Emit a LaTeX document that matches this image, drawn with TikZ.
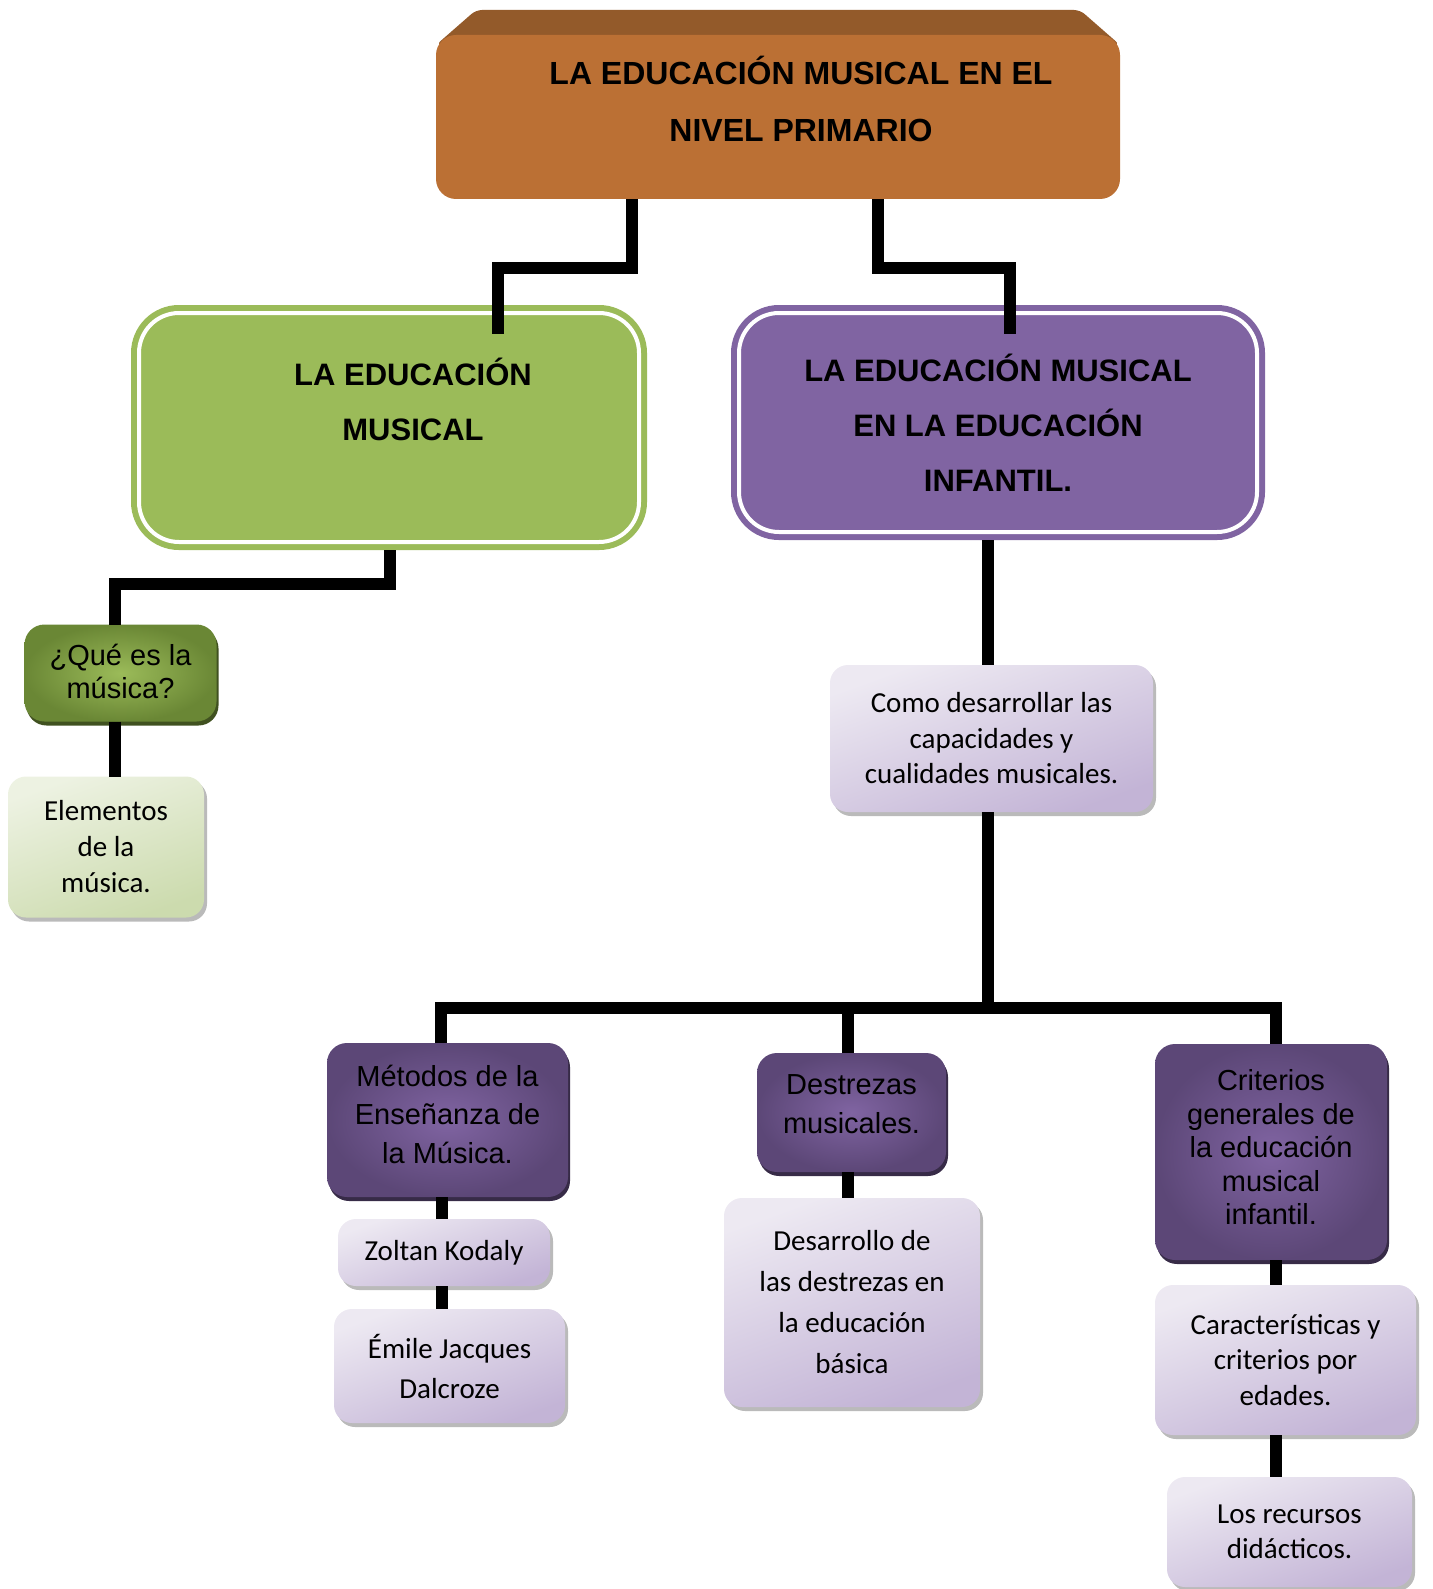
\documentclass[tikz,border=0pt]{standalone}
\usepackage{fontspec}
\setmainfont{Carlito}
\newfontfamily\arialfont{Liberation Sans}
\usetikzlibrary{shadows,backgrounds}
\definecolor{naranja}{HTML}{BB7034}
\definecolor{naranjaoscuro}{HTML}{935A2A}
\definecolor{verde}{HTML}{9BBB59}
\definecolor{verdeoscuro}{HTML}{6A8735}
\definecolor{verdeclaro}{HTML}{EDF2E2}
\definecolor{verdemedio}{HTML}{CCDBAE}
\definecolor{lila}{HTML}{8064A2}
\definecolor{lilaoscuro}{HTML}{5C4777}
\definecolor{lilaclaro}{HTML}{EDE9F2}
\definecolor{lilamedio}{HTML}{C3B4D6}
\tikzset{
  linea/.style={line width=12pt, line join=miter, black},
  titulo/.style={rectangle, rounded corners=20pt, fill=naranja, minimum width=684pt, minimum height=164pt,
    inner sep=0pt, outer sep=0pt, align=center, text depth=37pt,
    font=\arialfont\bfseries\fontsize{32}{57}\selectfont},
  grande/.style={rectangle, rounded corners=40pt, fill=#1, draw=#1, line width=6pt, double=white, double distance=4pt,
    inner sep=0pt, outer sep=0pt, align=center, font=\arialfont\bfseries\fontsize{31}{55}\selectfont},
  oscuro/.style={rectangle, rounded corners=20pt, inner sep=0pt, outer sep=0pt, align=center,
    font=\arialfont\fontsize{29}{#1}\selectfont},
  claro/.style={rectangle, rounded corners=18pt, inner sep=0pt, outer sep=0pt, align=center,
    font=\fontsize{29}{#1}\selectfont,
    drop shadow={shadow xshift=3pt, shadow yshift=-4pt, fill=black!45, opacity=.6}},
  verdeosc/.style={oscuro=#1, inner color=verde, outer color=verdeoscuro,
    drop shadow={shadow xshift=2pt, shadow yshift=-4pt, fill=verdeoscuro!60!black, opacity=1}},
  lilaosc/.style={oscuro=#1, inner color=lila, outer color=lilaoscuro,
    drop shadow={shadow xshift=2pt, shadow yshift=-4pt, fill=lilaoscuro!60!black, opacity=1}},
  verdecl/.style={claro=#1, top color=verdeclaro, bottom color=verdemedio, shading angle=20},
  lilacl/.style={claro=#1, top color=lilaclaro, bottom color=lilamedio, shading angle=20},
}
\begin{document}
\begin{tikzpicture}[x=1pt, y=-1pt]
\useasboundingbox (0,0) rectangle (1432,1589);
% Kasten oben
\node[titulo] (nivel) at (778,117) {\hspace*{46pt}LA EDUCACIÓN MUSICAL EN EL\\\hspace*{46pt}NIVEL PRIMARIO};
\begin{scope}[on background layer]
\fill[naranjaoscuro, rounded corners=6pt] ([yshift=-10pt]nivel.north west) -- ++(40,-35)
  -- ([xshift=-40pt,yshift=25pt]nivel.north east) -- ([yshift=-10pt]nivel.north east) -- cycle;
\end{scope}
% zweite Ebene
\node[grande=verde, minimum width=500pt, minimum height=229pt, text depth=56pt] (educacion) at (389,427.5) {\hspace*{48pt}LA EDUCACIÓN\\\hspace*{48pt}MUSICAL};
\node[grande=lila, minimum width=518pt, minimum height=219pt] (infantil) at (998,422.5) {LA EDUCACIÓN MUSICAL\\EN LA EDUCACIÓN\\INFANTIL.};
% links
\node[verdeosc=33, minimum width=192pt, minimum height=97pt, text depth=4pt] (que) at (120.5,673) {¿Qué es la\\música?};
\node[verdecl=36, minimum width=196pt, minimum height=141pt] (elementos) at (106,847) {Elementos\\de la\\música.};
% rechts
\node[lilacl=35.5, minimum width=323pt, minimum height=147pt] (capacidades) at (991.5,738.5) {Como desarrollar las\\capacidades y\\cualidades musicales.};
\node[lilaosc=38.5, minimum width=241pt, minimum height=154pt, text depth=12pt] (metodos) at (447.5,1120) {Métodos de la\\Enseñanza de\\la Música.};
\node[lilacl=36, minimum width=212pt, minimum height=67pt] (kodaly) at (444,1252.5) {Zoltan Kodaly};
\node[lilacl=40, minimum width=231pt, minimum height=114pt] (dalcroze) at (449.5,1366) {Émile Jacques\\Dalcroze};
\node[lilaosc=39, minimum width=189pt, minimum height=119pt, text depth=16pt] (destrezas) at (851.5,1112.5) {Destrezas\\musicales.};
\node[lilacl=41, minimum width=256pt, minimum height=209pt] (desarrollo) at (852,1302.5) {Desarrollo de\\las destrezas en\\la educación\\básica};
\node[lilaosc=33.5, minimum width=232pt, minimum height=216pt, text depth=10pt] (criterios) at (1271,1152) {Criterios\\generales de\\la educación\\musical\\infantil.};
\node[lilacl=35.5, minimum width=261pt, minimum height=150pt] (edades) at (1285.5,1360) {Características y\\criterios por\\edades.};
\node[lilacl=35, minimum width=245pt, minimum height=110pt] (recursos) at (1289.5,1532) {Los recursos\\didácticos.};
\coordinate (barra) at (988,1008);
% Linien
\draw[linea] ([xshift=-146pt]nivel.south) -- ++(0,69) -| ([xshift=109pt,yshift=-21pt]educacion.north);
\draw[linea] ([xshift=100pt]nivel.south) -- ++(0,69) -| ([xshift=12pt,yshift=-21pt]infantil.north);
\draw[linea] ([xshift=1pt,yshift=-8pt]educacion.south) -- ++(0,34) -| ([xshift=-5.5pt]que.north);
\draw[linea] ([xshift=-5.5pt]que.south) -- ([xshift=-5.5pt]que.south |- elementos.north);
\draw[linea] ([xshift=-10pt,yshift=-8pt]infantil.south) -- ([xshift=-10pt]infantil.south |- capacidades.north);
\draw[linea] ([xshift=-3.5pt]capacidades.south) -- (barra);
\draw[linea] ([xshift=-6.5pt]metodos.north) |- (barra);
\draw[linea] ([xshift=5pt]criterios.north) |- (barra);
\draw[linea] ([xshift=-3.5pt]destrezas.north) -- ([xshift=-3.5pt]destrezas.north |- barra);
\draw[linea] ([xshift=-5.5pt]metodos.south) -- ([xshift=-5.5pt]metodos.south |- kodaly.north);
\draw[linea] ([xshift=-2pt]kodaly.south) -- ([xshift=-2pt]kodaly.south |- dalcroze.north);
\draw[linea] ([xshift=-3.5pt]destrezas.south) -- ([xshift=-3.5pt]destrezas.south |- desarrollo.north);
\draw[linea] ([xshift=5pt]criterios.south) -- ([xshift=5pt]criterios.south |- edades.north);
\draw[linea] ([xshift=-9.5pt]edades.south) -- ([xshift=-9.5pt]edades.south |- recursos.north);
\end{tikzpicture}
\end{document}
